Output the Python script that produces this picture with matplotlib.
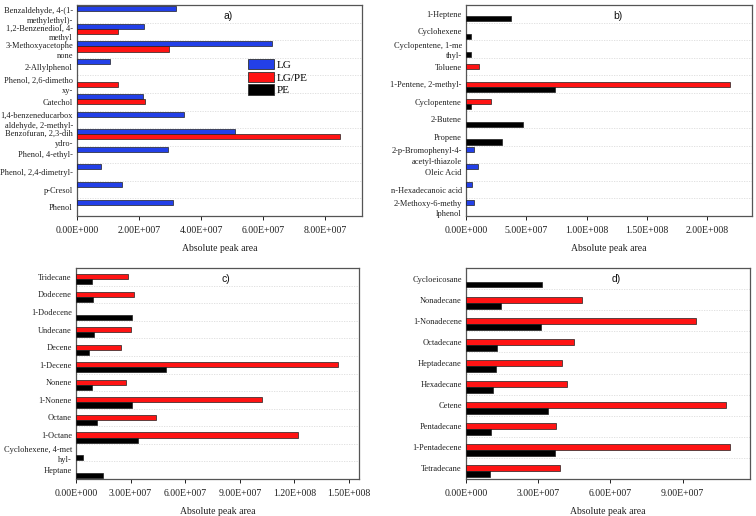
import numpy as np
import matplotlib
matplotlib.use("Agg")
import matplotlib.pyplot as plt
from matplotlib.patches import Patch

nan = np.nan

# ---------------- data ----------------
series_names = ["LG", "LG/PE", "PE"]
series_colors = ["#2340e8", "#ff1414", "#000000"]

cats_a = ["Benzaldehyde, 4-(1-\nmethylethyl)-", "1,2-Benzenediol, 4-\nmethyl", "3-Methoxyacetophe\nnone",
          "2-Allylphenol", "Phenol, 2,6-dimetho\nxy-", "Catechol",
          "1,4-benzeneducarbox\naldehyde, 2-methyl-", "Benzofuran, 2,3-dih\nydro-", "Phenol, 4-ethyl-",
          "Phenol, 2,4-dimetryl-", "p-Cresol", "Phenol"]
a_lg = [3.19e7, 2.15e7, 6.3e7, 1.06e7, nan, 2.12e7, 3.45e7, 5.1e7, 2.94e7, 0.78e7, 1.45e7, 3.1e7]
a_lgpe = [nan, 1.32e7, 2.96e7, nan, 1.32e7, 2.18e7, nan, 8.5e7, nan, nan, nan, nan]
a_pe = [nan] * 12

cats_b = ["1-Heptene", "Cyclohexene", "Cyclopentene, 1-me\nthyl-", "Toluene", "1-Pentene, 2-methyl-",
          "Cyclopentene", "2-Butene", "Propene", "2-p-Bromophenyl-4-\nacetyl-thiazole", "Oleic Acid",
          "n-Hexadecanoic acid", "2-Methoxy-6-methy\nlphenol"]
b_lg = [nan, nan, nan, nan, nan, nan, nan, nan, 0.065e8, 0.10e8, 0.05e8, 0.065e8]
b_lgpe = [nan, nan, nan, 0.11e8, 2.19e8, 0.21e8, nan, nan, nan, nan, nan, nan]
b_pe = [0.37e8, 0.04e8, 0.045e8, nan, 0.74e8, 0.045e8, 0.47e8, 0.30e8, nan, nan, nan, nan]

cats_c = ["Tridecane", "Dodecene", "1-Dodecene", "Undecane", "Decene", "1-Decene", "Nonene",
          "1-Nonene", "Octane", "1-Octane", "Cyclohexene, 4-met\nhyl-", "Heptane"]
c_lg = [nan] * 12
c_lgpe = [2.86e7, 3.2e7, nan, 3.0e7, 2.5e7, 1.44e8, 2.75e7, 1.02e8, 4.4e7, 1.22e8, nan, nan]
c_pe = [0.87e7, 0.92e7, 3.06e7, 0.97e7, 0.73e7, 4.96e7, 0.86e7, 3.1e7, 1.18e7, 3.42e7, 0.4e7, 1.46e7]

cats_d = ["Cycloeicosane", "Nonadecane", "1-Nonadecene", "Octadecane", "Heptadecane", "Hexadecane",
          "Cetene", "Pentadecane", "1-Pentadecene", "Tetradecane"]
d_lg = [nan] * 10
d_lgpe = [nan, 4.83e7, 9.54e7, 4.5e7, 4.0e7, 4.2e7, 1.08e8, 3.75e7, 1.096e8, 3.92e7]
d_pe = [3.17e7, 1.46e7, 3.13e7, 1.29e7, 1.25e7, 1.13e7, 3.42e7, 1.04e7, 3.7e7, 1.0e7]

ticks_a = [0, 2e7, 4e7, 6e7, 8e7]
ticklabels_a = ["0.00E+000", "2.00E+007", "4.00E+007", "6.00E+007", "8.00E+007"]
ticks_b = [0, 5e7, 1e8, 1.5e8, 2e8]
ticklabels_b = ["0.00E+000", "5.00E+007", "1.00E+008", "1.50E+008", "2.00E+008"]
ticks_c = [0, 3e7, 6e7, 9e7, 1.2e8, 1.5e8]
ticklabels_c = ["0.00E+000", "3.00E+007", "6.00E+007", "9.00E+007", "1.20E+008", "1.50E+008"]
ticks_d = [0, 3e7, 6e7, 9e7]
ticklabels_d = ["0.00E+000", "3.00E+007", "6.00E+007", "9.00E+007"]

xlabel = "Absolute peak area"

# ---------------- drawing ----------------
SERIF = ["Liberation Serif", "DejaVu Serif"]
plt.rcParams["font.family"] = SERIF

fig = plt.figure(figsize=(7.56, 5.16), dpi=100)

def panel(rect, cats, series, ticks, ticklabels, xmax, title, bw):
    ax = fig.add_axes(rect)
    n = len(cats)
    y = np.arange(n)
    offsets = [-bw, 0.0, bw]
    for vals, col, off in zip(series, series_colors, offsets):
        v = np.array(vals, dtype=float)
        m = ~np.isnan(v)
        if m.any():
            ax.barh(y[m] + off, v[m], height=bw, color=col, edgecolor="#202020",
                    linewidth=0.5, zorder=3)
    for b in np.arange(n - 1) + 0.5:
        ax.axhline(b, color="#dcdcdc", lw=0.6, ls=(0, (1.5, 1.5)), zorder=1)
    ax.set_ylim(n - 0.5, -0.5)
    ax.set_xlim(0, xmax)
    ax.set_yticks(y)
    ax.set_yticklabels(cats, fontsize=6.0, linespacing=1.35)
    ax.tick_params(axis="y", length=0, pad=3, colors="#202020")
    ax.set_xticks(ticks)
    ax.set_xticklabels(ticklabels, fontsize=7)
    ax.tick_params(axis="x", direction="out", length=3, width=0.7, pad=4, colors="#202020")
    for s in ax.spines.values():
        s.set_color("#555555")
        s.set_linewidth(0.9)
    ax.set_xlabel(xlabel, fontsize=7, labelpad=7, color="#202020")
    ax.text(0.53, 0.95, title, transform=ax.transAxes, ha="center", va="center",
            fontsize=7.5, family=["Liberation Sans", "DejaVu Sans"], color="#111111")
    return ax

ax_a = panel([0.1019, 0.5814, 0.3770, 0.4089], cats_a, [a_lg, a_lgpe, a_pe],
             ticks_a, ticklabels_a, 9.2e7, "a)", 0.29)
ax_b = panel([0.6164, 0.5814, 0.3783, 0.4089], cats_b, [b_lg, b_lgpe, b_pe],
             ticks_b, ticklabels_b, 2.37e8, "b)", 0.29)
ax_c = panel([0.1005, 0.0717, 0.3743, 0.4089], cats_c, [c_lg, c_lgpe, c_pe],
             ticks_c, ticklabels_c, 1.555e8, "c)", 0.29)
ax_d = panel([0.6164, 0.0717, 0.3757, 0.4089], cats_d, [d_lg, d_lgpe, d_pe],
             ticks_d, ticklabels_d, 1.18e8, "d)", 0.28)

handles = [Patch(facecolor=c, edgecolor="#303030", linewidth=0.6, label=l)
           for c, l in zip(series_colors, series_names)]
ax_a.legend(handles=handles, loc="upper left", bbox_to_anchor=(0.6, 0.745), frameon=False,
            fontsize=8, handlelength=2.3, handleheight=1.1, labelspacing=0.15,
            handletextpad=0.3, borderpad=0, borderaxespad=0)

fig.savefig("out.png", dpi=100)
